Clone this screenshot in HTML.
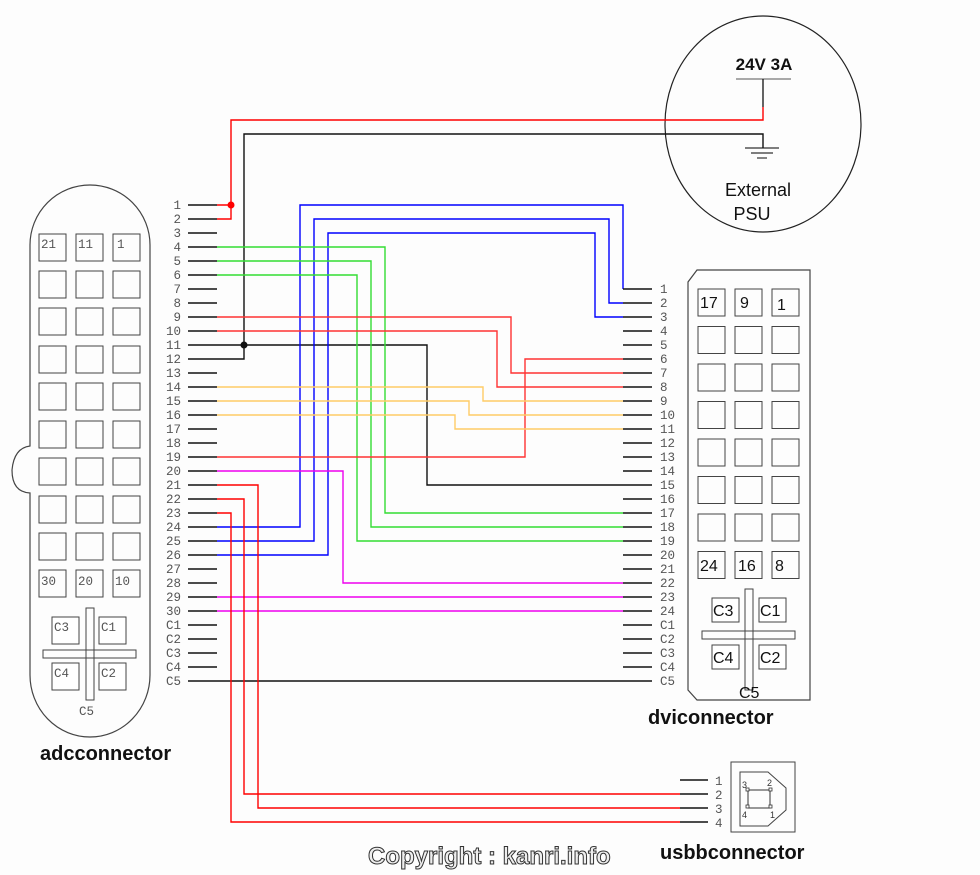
<!DOCTYPE html>
<html><head><meta charset="utf-8"><style>
html,body{margin:0;padding:0;background:#fff;width:980px;height:875px;overflow:hidden}
svg{display:block}
.m{font-family:"Liberation Mono",monospace;font-size:12.5px;fill:#555}
.s{font-family:"Liberation Sans",sans-serif}
</style></head><body>
<svg id="g" width="980" height="875" viewBox="0 0 980 875" xmlns="http://www.w3.org/2000/svg">
<rect width="980" height="875" fill="#fdfdfd"/>
<ellipse cx="763" cy="124" rx="98" ry="108" fill="none" stroke="#222" stroke-width="1.2"/>
<text x="764" y="70" text-anchor="middle" class="s" font-size="17" font-weight="bold" fill="#111">24V 3A</text>
<line x1="736" y1="79" x2="791" y2="79" stroke="#777" stroke-width="1.2"/>
<line x1="763" y1="79" x2="763" y2="107" stroke="#111" stroke-width="1.3"/>
<line x1="745" y1="148" x2="779" y2="148" stroke="#333" stroke-width="1.2"/>
<line x1="751" y1="153" x2="773" y2="153" stroke="#333" stroke-width="1.2"/>
<line x1="757" y1="158" x2="767" y2="158" stroke="#333" stroke-width="1.2"/>
<text x="758" y="196" text-anchor="middle" class="s" font-size="18" fill="#111">External</text>
<text x="752" y="220" text-anchor="middle" class="s" font-size="18" fill="#111">PSU</text>
<g fill="none" stroke-width="1.4">
<polyline stroke="#f00" points="217,205 231,205 231,120 763,120 763,107"/>
<polyline stroke="#f00" points="217,219 231,219 231,205"/>
<polyline stroke="#111" points="217,359 244,359 244,134 763,134 763,148"/>
<polyline stroke="#111" points="217,345 427,345 427,485 623,485"/>
<polyline stroke="#00f" points="217,527 300,527 300,205 623,205 623,289"/>
<polyline stroke="#00f" points="217,541 314,541 314,219 609,219 609,303 623,303"/>
<polyline stroke="#00f" points="217,555 328,555 328,233 595,233 595,317 623,317"/>
<polyline stroke="#3d3" points="217,247 385,247 385,513 623,513"/>
<polyline stroke="#3d3" points="217,261 371,261 371,527 623,527"/>
<polyline stroke="#3d3" points="217,275 357,275 357,541 623,541"/>
<polyline stroke="#f33" points="217,317 511,317 511,373 623,373"/>
<polyline stroke="#f33" points="217,331 497,331 497,387 623,387"/>
<polyline stroke="#f33" points="217,457 525,457 525,359 623,359"/>
<polyline stroke="#fc6" points="217,387 483,387 483,401 623,401"/>
<polyline stroke="#fc6" points="217,401 469,401 469,415 623,415"/>
<polyline stroke="#fc6" points="217,415 455,415 455,429 623,429"/>
<polyline stroke="#e0e" points="217,471 343,471 343,583 623,583"/>
<polyline stroke="#e0e" points="217,597 623,597"/>
<polyline stroke="#e0e" points="217,611 623,611"/>
<polyline stroke="#111" points="217,681 623,681"/>
<polyline stroke="#f00" points="217,485 258,485 258,808 680,808"/>
<polyline stroke="#f00" points="217,499 244,499 244,794 680,794"/>
<polyline stroke="#f00" points="217,513 231,513 231,822 680,822"/>
</g>
<circle cx="231" cy="205" r="3.5" fill="#f00"/>
<circle cx="244" cy="345" r="3.5" fill="#111"/>
<path d="M30,440 L30,245 A60,60 0 0 1 150,245 L150,675 A60,62 0 0 1 30,675 L30,493 Q12,492 12,470 Q14,448 30,446 Z" fill="none" stroke="#444" stroke-width="1.2"/>
<g id="adc" fill="none" stroke="#444" stroke-width="1"></g>
<rect x="86" y="608" width="8" height="92" fill="none" stroke="#444"/>
<rect x="43" y="650" width="93" height="8" fill="none" stroke="#444"/>
<rect x="52" y="617" width="27" height="27" fill="#fff" stroke="#444"/>
<rect x="99" y="617" width="27" height="27" fill="#fff" stroke="#444"/>
<rect x="52" y="663" width="27" height="27" fill="#fff" stroke="#444"/>
<rect x="99" y="663" width="27" height="27" fill="#fff" stroke="#444"/>
<text x="54" y="631" class="m">C3</text><text x="101" y="631" class="m">C1</text>
<text x="54" y="677" class="m">C4</text><text x="101" y="677" class="m">C2</text>
<text x="79" y="715" class="m">C5</text>
<text x="40" y="760" class="s" font-size="20" font-weight="bold" fill="#111">adcconnector</text>
<path d="M697,270 L810,270 L810,700 L697,700 L688,690 L688,282 Z" fill="none" stroke="#444" stroke-width="1.2"/>
<g id="dvi" fill="none" stroke="#444" stroke-width="1"></g>
<rect x="745" y="589" width="8" height="101" fill="none" stroke="#444"/>
<rect x="702" y="631" width="93" height="8" fill="none" stroke="#444"/>
<rect x="712" y="598" width="27" height="24" fill="#fff" stroke="#444"/>
<rect x="759" y="598" width="27" height="24" fill="#fff" stroke="#444"/>
<rect x="712" y="645" width="27" height="24" fill="#fff" stroke="#444"/>
<rect x="759" y="645" width="27" height="24" fill="#fff" stroke="#444"/>
<g class="s" font-size="16" fill="#111">
<text x="713" y="616">C3</text><text x="760" y="616">C1</text>
<text x="713" y="663">C4</text><text x="760" y="663">C2</text>
<text x="739" y="698">C5</text>
<text x="700" y="308">17</text><text x="740" y="308">9</text><text x="777" y="310">1</text>
<text x="700" y="571">24</text><text x="738" y="571">16</text><text x="775" y="571">8</text>
</g>
<text x="648" y="724" class="s" font-size="20" font-weight="bold" fill="#111">dviconnector</text>
<rect x="731" y="762" width="64" height="70" fill="none" stroke="#444"/>
<path d="M740,772 L768,772 L786,788 L786,810 L768,826 L740,826 Z" fill="none" stroke="#444"/>
<rect x="748" y="790" width="22" height="18" fill="none" stroke="#333"/>
<g fill="#fff" stroke="#333" stroke-width="0.8"><rect x="746" y="788" width="3" height="3"/><rect x="769" y="788" width="3" height="3"/><rect x="746" y="805" width="3" height="3"/><rect x="769" y="805" width="3" height="3"/></g>
<g class="s" font-size="9" fill="#333"><text x="742" y="788">3</text><text x="767" y="786">2</text><text x="742" y="818">4</text><text x="770" y="818">1</text></g>
<text x="660" y="859" class="s" font-size="20" font-weight="bold" fill="#111">usbbconnector</text>
<text x="368" y="864" class="s" font-size="24" font-weight="bold" fill="#eee" stroke="#333" stroke-width="1">Copyright : kanri.info</text>
<g id="st"></g>
</svg>
<script>
(function(){
var NS="http://www.w3.org/2000/svg",st=document.getElementById("st");
function el(t,a,txt,p){var e=document.createElementNS(NS,t);for(var k in a)e.setAttribute(k,a[k]);if(txt)e.textContent=txt;(p||st).appendChild(e);}
var adcL=[];for(var i=1;i<=30;i++)adcL.push(""+i);adcL=adcL.concat(["C1","C2","C3","C4","C5"]);
adcL.forEach(function(l,i){var y=205+14*i;
 el("line",{x1:188,y1:y,x2:217,y2:y,stroke:"#111","stroke-width":1.4});
 el("text",{x:181,y:y+4,"text-anchor":"end","class":"m",fill:(i<30&&i%2==0)?"#733":"#555"},l);});
var dviL=[];for(var i=1;i<=24;i++)dviL.push(""+i);dviL=dviL.concat(["C1","C2","C3","C4","C5"]);
dviL.forEach(function(l,i){var y=289+14*i;
 el("line",{x1:623,y1:y,x2:652,y2:y,stroke:"#111","stroke-width":1.4});
 el("text",{x:660,y:y+4,"class":"m",fill:i<24?"#733":"#555"},l);});
for(var i=0;i<4;i++){var y=780+14*i;el("line",{x1:680,y1:y,x2:708,y2:y,stroke:"#111","stroke-width":1.4});
 el("text",{x:715,y:y+5,"class":"m",fill:"#335"},""+(i+1));}
var adc=document.getElementById("adc"),ys=[234,271,308,346,383,421,458,496,533,570],xs=[39,76,113];
ys.forEach(function(y){xs.forEach(function(x){el("rect",{x:x,y:y,width:27,height:27},null,adc);});});
[["21",41],["11",78],["1",117]].forEach(function(a){el("text",{x:a[1],y:248,"class":"m"},a[0]);});
[["30",41],["20",78],["10",115]].forEach(function(a){el("text",{x:a[1],y:585,"class":"m"},a[0]);});
var dvi=document.getElementById("dvi");
for(var r=0;r<8;r++)[698,735,772].forEach(function(x){el("rect",{x:x,y:289+37.5*r,width:27,height:27},null,dvi);});
})();
</script>
</body></html>
